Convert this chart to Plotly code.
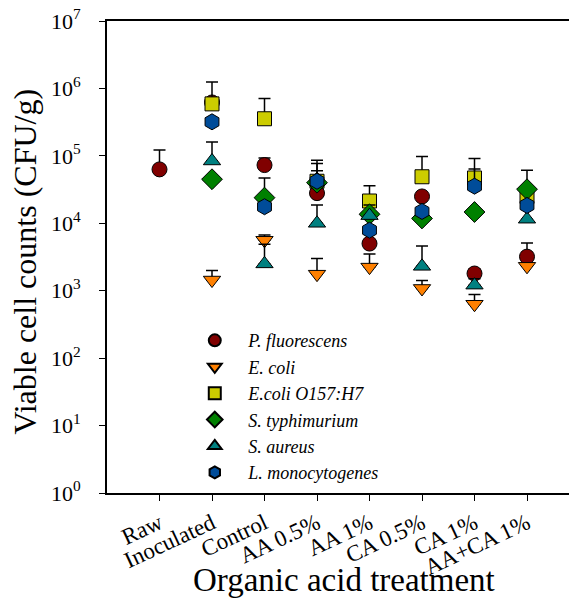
import plotly.graph_objects as go

categories = ["Raw", "Inoculated", "Control", "AA 0.5%", "AA 1%", "CA 0.5%", "CA 1%", "AA+CA 1%"]

series_names = ["P. fluorescens", "E. coli", "E.coli O157:H7", "S. typhimurium", "S. aureus", "L. monocytogenes"]

p_fluorescens = [6.3e4, 6.2e5, 7.3e4, 2.8e4, 5.0e3, 2.5e4, 1.8e3, 3.2e3]
p_fluorescens_err = [5.9e4, 0, 2.0e4, 3.2e4, 0, 3.0e3, 3.0e2, 1.9e3]

e_coli = [None, 1.44e3, 5.6e3, 1.76e3, 2.24e3, 1.08e3, 6.3e2, 2.3e3]
e_coli_err = [0, 5.6e2, 1.1e3, 1.24e3, 1.26e3, 3.4e2, 2.5e2, 3.0e2]

e_coli_o157 = [None, 5.9e5, 3.55e5, 4.2e4, 2.14e4, 4.9e4, 4.7e4, 2.5e4]
e_coli_o157_err = [0, 6.6e5, 3.55e5, 4.4e4, 1.46e4, 4.9e4, 4.4e4, 6.0e3]

s_typhimurium = [None, 4.5e4, 2.4e4, 4.0e4, 1.36e4, 1.18e4, 1.47e4, 3.2e4]
s_typhimurium_err = [0, 0, 2.3e4, 0, 5.0e3, 0, 0, 2.9e4]

s_aureus = [None, 8.4e4, 2.5e3, 1.0e4, 1.3e4, 2.3e3, 1.21e3, 1.15e4]
s_aureus_err = [0, 7.6e4, 2.4e3, 8.6e3, 0, 2.3e3, 3.0e2, 0]

l_monocytogenes = [None, 3.2e5, 1.76e4, 4.2e4, 7.9e3, 1.5e4, 3.55e4, 1.84e4]
l_monocytogenes_err = [0, 0, 0, 3.5e4, 0, 0, 2.85e4, 0]

y_tickvals = [1, 10, 100, 1e3, 1e4, 1e5, 1e6, 1e7]
y_ticktext = ["10<sup>%d</sup>" % i for i in range(8)]

x_title = "Organic acid treatment"
y_title = "Viable cell counts (CFU/g)"

values = [p_fluorescens, e_coli, e_coli_o157, s_typhimurium, s_aureus, l_monocytogenes]
errors = [p_fluorescens_err, e_coli_err, e_coli_o157_err, s_typhimurium_err, s_aureus_err, l_monocytogenes_err]
colors = ["#800000", "#FF8000", "#CCCC00", "#008000", "#008080", "#004C99"]
symbols = ["circle", "triangle-down", "square", "diamond", "triangle-up", "hexagon"]
sizes = [15, 15, 14, 16, 15, 16]

font_family = "Liberation Serif, Times New Roman, serif"
pad = "\u00a0\u00a0\u00a0"

fig = go.Figure()
for name, vals, errs, col, sym, sz in zip(series_names, values, errors, colors, symbols, sizes):
    fig.add_trace(go.Scatter(
        x=categories, y=vals, mode="markers", name=pad + "<i>%s</i>" % name,
        marker=dict(symbol=sym, color=col, size=sz, line=dict(color="black", width=1)),
        error_y=dict(type="data", array=errs, arrayminus=[0] * len(errs), symmetric=False,
                     color="black", thickness=1.5, width=6),
    ))

fig.update_layout(
    width=571, height=602,
    margin=dict(l=107, r=2, t=21, b=109),
    paper_bgcolor="white", plot_bgcolor="white",
    font=dict(family=font_family, color="black"),
    showlegend=True,
    legend=dict(x=0.19, y=0.362, xanchor="left", yanchor="top",
                font=dict(size=18, family=font_family), bgcolor="rgba(0,0,0,0)",
                itemsizing="constant", tracegroupgap=0),
    xaxis=dict(
        type="category", range=[-1, 7.8],
        showline=True, linecolor="black", linewidth=2, mirror=True,
        ticks="outside", ticklen=6, tickwidth=1, tickcolor="black",
        tickangle=-25, tickfont=dict(size=23, family=font_family),
        showgrid=False, zeroline=False,
    ),
    yaxis=dict(
        type="log", range=[0, 7],
        tickvals=y_tickvals, ticktext=y_ticktext,
        showline=True, linecolor="black", linewidth=2,
        ticks="outside", ticklen=6, tickwidth=1, tickcolor="black",
        ticklabelstandoff=14,
        tickfont=dict(size=22, family=font_family),
        showgrid=False, zeroline=False,
    ),
    annotations=[
        dict(text=x_title, xref="paper", yref="paper", x=0.513, y=-0.184,
             xanchor="center", yanchor="middle", showarrow=False,
             font=dict(size=33, family=font_family, color="black")),
        dict(text=y_title, xref="paper", yref="paper", x=-0.178, y=0.49,
             xanchor="center", yanchor="middle", showarrow=False, textangle=-90,
             font=dict(size=32, family=font_family, color="black")),
    ],
)

fig.write_html("out.html")
